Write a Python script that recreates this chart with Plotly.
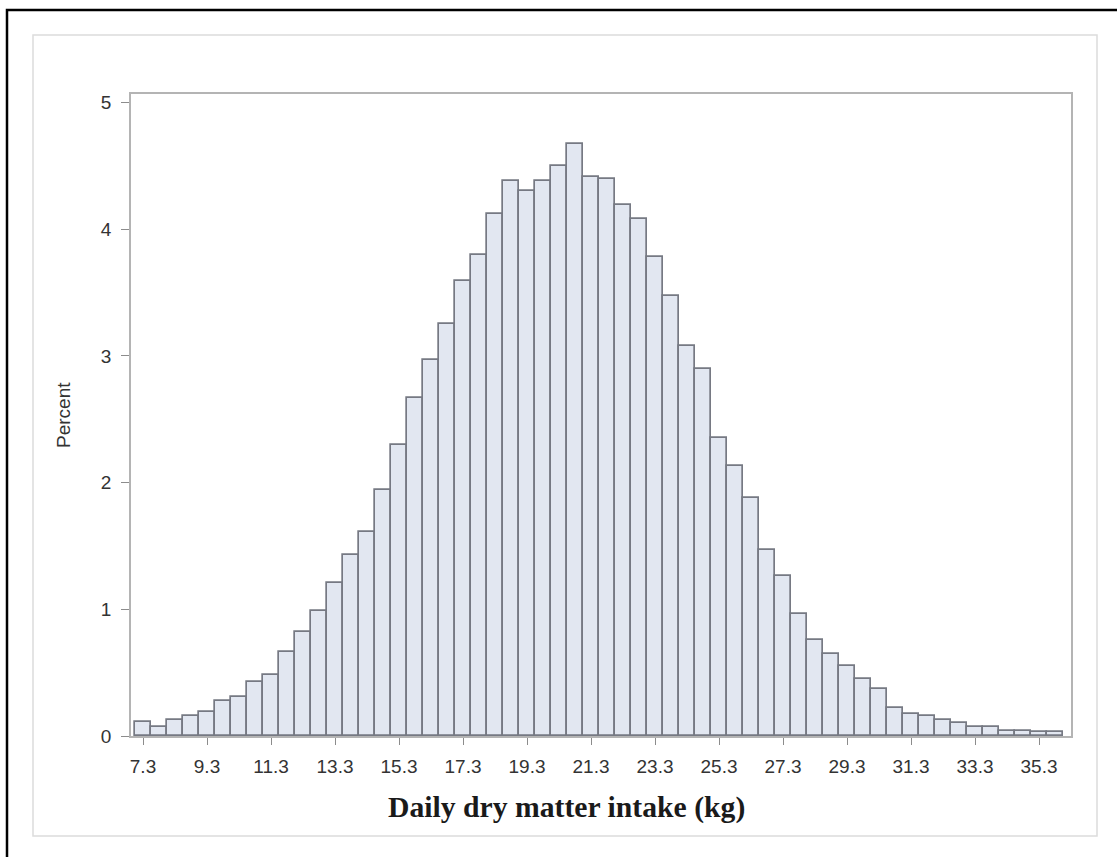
import plotly.graph_objects as go

bin_mid = [7.3, 7.8, 8.3, 8.8, 9.3, 9.8, 10.3, 10.8, 11.3, 11.8,
           12.3, 12.8, 13.3, 13.8, 14.3, 14.8, 15.3, 15.8, 16.3, 16.8,
           17.3, 17.8, 18.3, 18.8, 19.3, 19.8, 20.3, 20.8, 21.3, 21.8,
           22.3, 22.8, 23.3, 23.8, 24.3, 24.8, 25.3, 25.8, 26.3, 26.8,
           27.3, 27.8, 28.3, 28.8, 29.3, 29.8, 30.3, 30.8, 31.3, 31.8,
           32.3, 32.8, 33.3, 33.8, 34.3, 34.8, 35.3, 35.8]
percent = [0.11, 0.07, 0.13, 0.16, 0.19, 0.28, 0.31, 0.43, 0.48, 0.66,
           0.82, 0.99, 1.21, 1.43, 1.61, 1.94, 2.30, 2.67, 2.97, 3.25,
           3.59, 3.80, 4.12, 4.38, 4.30, 4.38, 4.50, 4.67, 4.41, 4.40,
           4.19, 4.08, 3.78, 3.47, 3.08, 2.90, 2.35, 2.13, 1.88, 1.47,
           1.26, 0.96, 0.76, 0.65, 0.55, 0.45, 0.37, 0.22, 0.17, 0.16,
           0.13, 0.10, 0.07, 0.07, 0.04, 0.04, 0.03, 0.03]
bin_width = 0.5
x_tick_vals = [7.3, 9.3, 11.3, 13.3, 15.3, 17.3, 19.3, 21.3, 23.3, 25.3,
               27.3, 29.3, 31.3, 33.3, 35.3]
x_tick_text = ["7.3", "9.3", "11.3", "13.3", "15.3", "17.3", "19.3", "21.3",
               "23.3", "25.3", "27.3", "29.3", "31.3", "33.3", "35.3"]
y_tick_vals = [0, 1, 2, 3, 4, 5]
x_title = "Daily dry matter intake (kg)"
y_title = "Percent"

W, H = 1117, 857
L, R, T, B = 131, 1071, 94, 736

def px(xp):
    return (xp - L) / (R - L)

def py(yp):
    return (B - yp) / (B - T)

fig = go.Figure()
fig.add_trace(go.Bar(
    x=bin_mid, y=percent, width=bin_width,
    marker=dict(color="#e2e7f1", line=dict(color="#767983", width=1.7)),
    showlegend=False, hoverinfo="x+y",
))

tick_font = dict(family="Liberation Sans, Arial, sans-serif", size=19, color="#333333")

fig.update_layout(
    width=W, height=H,
    margin=dict(l=L, r=W - R, t=T, b=H - B, pad=0),
    paper_bgcolor="white", plot_bgcolor="white",
    bargap=0,
    xaxis=dict(
        range=[6.925, 36.3], tickmode="array", tickvals=x_tick_vals, ticktext=x_tick_text,
        ticks="outside", ticklen=7, tickcolor="#8c8c8c", tickwidth=1,
        showline=True, linecolor="#b4b4b4", linewidth=1.5, mirror=True,
        showgrid=False, zeroline=False, tickfont=tick_font, ticklabelstandoff=5,
    ),
    yaxis=dict(
        range=[0, 5.067], tickmode="array", tickvals=y_tick_vals,
        ticks="outside", ticklen=8, tickcolor="#8c8c8c", tickwidth=1,
        showline=True, linecolor="#b4b4b4", linewidth=1.5, mirror=True,
        showgrid=False, zeroline=False, tickfont=tick_font, ticklabelstandoff=6,
    ),
    annotations=[
        dict(text=x_title, xref="paper", yref="paper", x=px(566), y=py(807),
             xanchor="center", yanchor="middle", showarrow=False,
             font=dict(family="Liberation Serif, Times New Roman, serif", size=29.7,
                       color="#1a1a1a", weight="bold")),
        dict(text=y_title, xref="paper", yref="paper", x=px(63), y=0.5,
             xanchor="center", yanchor="middle", showarrow=False, textangle=-90,
             font=dict(family="Liberation Sans, Arial, sans-serif", size=19,
                       color="#333333")),
    ],
    shapes=[
        dict(type="rect", xref="paper", yref="paper",
             x0=px(33), x1=px(1097), y0=py(836), y1=py(35),
             line=dict(color="#dcdcdc", width=1.5), layer="below"),
        dict(type="rect", xref="paper", yref="paper",
             x0=px(7), x1=px(1140), y0=py(880), y1=py(10),
             line=dict(color="#000000", width=2.5), layer="below"),
    ],
)

fig.write_html("out.html", config={"displayModeBar": False},
               post_script="document.body.style.margin='0';document.body.style.padding='0';")
